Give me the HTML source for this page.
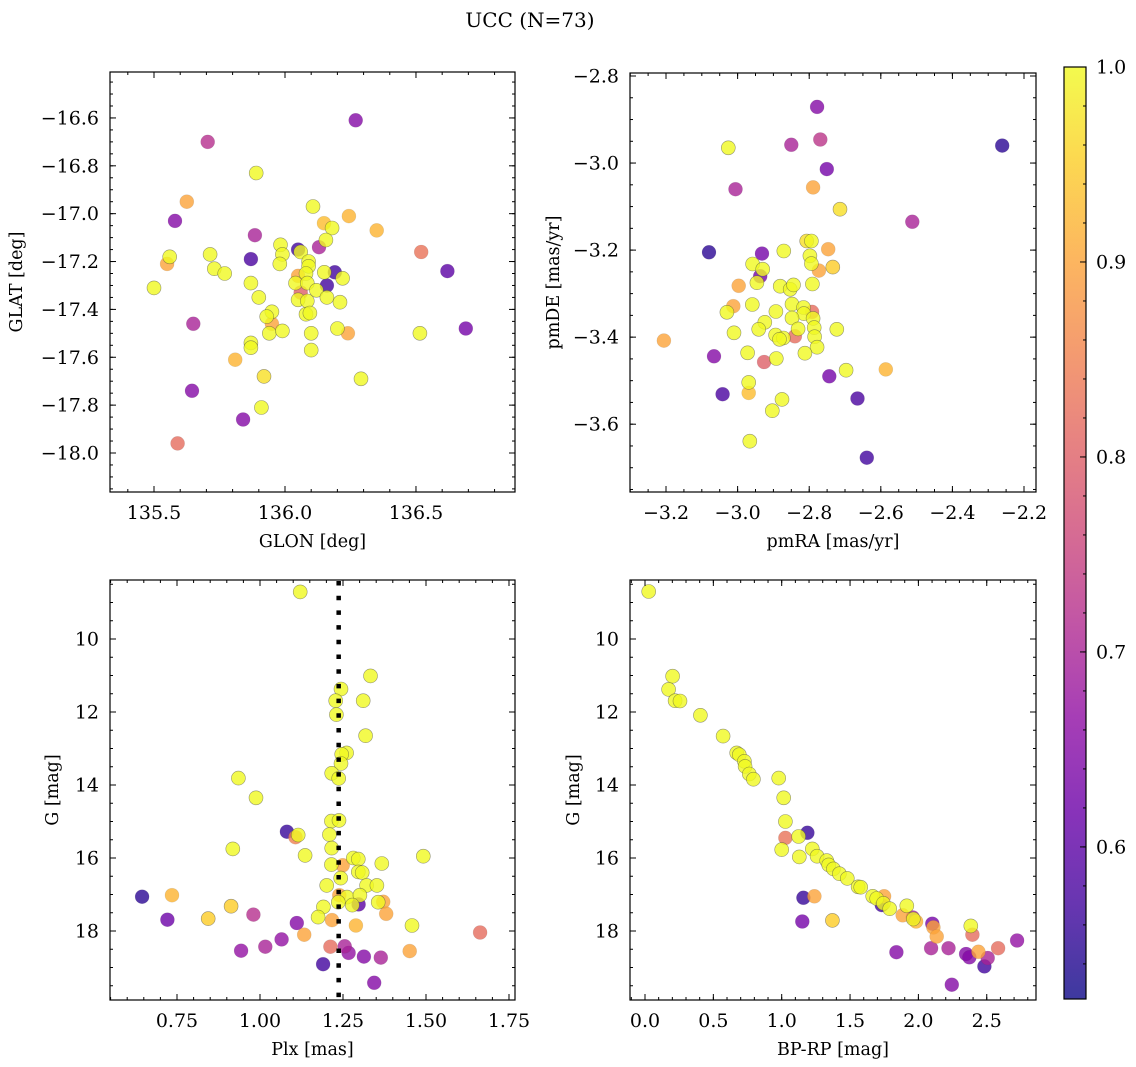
<!DOCTYPE html>
<html><head><meta charset="utf-8"><title>UCC (N=73)</title>
<style>
html,body{margin:0;padding:0;background:#fff;}
svg{display:block;font-family:"DejaVu Serif","Liberation Serif",serif;}
</style></head>
<body>
<svg id="fig" width="1136" height="1067" viewBox="0 0 1136 1067" xmlns="http://www.w3.org/2000/svg">
<text x="530" y="27" font-size="20" text-anchor="middle">UCC (N=73)</text>
</svg>
<script>
// ---------- Panel 1: GLON vs GLAT ----------
const p1X=[136.27,135.705,135.89,135.625,135.58,136.107,136.244,136.149,136.18,136.35,135.885,136.156,136.13,135.983,136.05,136.06,136.52,135.56,135.55,135.714,135.87,135.99,135.98,136.09,136.62,135.73,135.77,136.09,136.08,136.19,136.15,136.22,136.05,135.50,135.87,136.04,136.085,136.16,136.06,135.90,136.12,136.16,136.05,136.085,136.21,135.95,136.08,136.095,135.93,135.95,135.65,135.94,135.99,136.20,136.24,136.10,136.515,136.69,135.87,135.87,136.10,135.81,135.92,136.29,135.645,135.91,135.84,135.59];
const p1Y=[-16.61,-16.70,-16.83,-16.95,-17.03,-16.97,-17.01,-17.04,-17.06,-17.07,-17.09,-17.11,-17.14,-17.13,-17.15,-17.16,-17.16,-17.18,-17.21,-17.17,-17.19,-17.17,-17.21,-17.20,-17.24,-17.23,-17.25,-17.22,-17.25,-17.245,-17.245,-17.27,-17.26,-17.31,-17.29,-17.29,-17.29,-17.30,-17.33,-17.35,-17.32,-17.35,-17.36,-17.365,-17.37,-17.41,-17.42,-17.415,-17.43,-17.46,-17.46,-17.50,-17.49,-17.48,-17.50,-17.50,-17.50,-17.48,-17.54,-17.56,-17.57,-17.61,-17.68,-17.69,-17.74,-17.81,-17.86,-17.96];
const p1P=[0.65,0.72,1,0.9,0.65,1,0.92,0.93,1,0.92,0.7,1,0.7,1,0.57,1,0.83,1,0.9,1,0.58,1,1,1,0.6,1,1,1,1,0.57,1,1,0.9,1,1,1,1,0.57,0.8,1,1,1,1,1,1,1,1,1,1,0.9,0.7,1,1,1,0.9,1,1,0.63,1,1,1,0.92,0.97,1,0.65,1,0.65,0.82];
// ---------- Panel 2: pmRA vs pmDE ----------
const p2X=[-2.778,-3.026,-2.85,-2.769,-2.261,-2.751,-3.006,-2.789,-2.714,-2.512,-3.08,-2.932,-2.871,-2.807,-2.794,-2.747,-2.798,-2.794,-2.734,-2.773,-2.958,-2.93,-2.937,-2.946,-2.997,-2.881,-2.853,-2.844,-2.791,-3.012,-3.03,-2.959,-2.893,-2.848,-2.816,-2.792,-2.815,-2.848,-2.789,-2.924,-2.941,-3.01,-2.831,-2.786,-2.723,-2.84,-2.894,-2.872,-2.883,-2.785,-3.206,-2.778,-2.812,-3.066,-2.972,-2.926,-2.892,-2.697,-2.586,-2.744,-2.969,-2.969,-3.042,-2.876,-2.665,-2.903,-2.966,-2.639];
const p2Y=[-2.871,-2.965,-2.958,-2.946,-2.96,-3.014,-3.06,-3.056,-3.106,-3.135,-3.205,-3.208,-3.202,-3.179,-3.179,-3.198,-3.213,-3.231,-3.239,-3.247,-3.232,-3.244,-3.26,-3.275,-3.282,-3.283,-3.29,-3.28,-3.278,-3.329,-3.343,-3.325,-3.341,-3.324,-3.332,-3.342,-3.346,-3.356,-3.357,-3.366,-3.382,-3.39,-3.381,-3.378,-3.382,-3.398,-3.395,-3.402,-3.405,-3.399,-3.408,-3.423,-3.437,-3.444,-3.436,-3.457,-3.449,-3.476,-3.474,-3.49,-3.504,-3.528,-3.531,-3.543,-3.541,-3.569,-3.639,-3.677];
const p2P=[0.65,1,0.7,0.73,0.55,0.63,0.7,0.9,0.97,0.7,0.55,0.63,1,0.97,1,0.9,1,1,0.95,0.9,1,1,0.63,1,0.9,1,1,1,1,0.9,1,1,1,1,1,0.82,1,1,1,1,1,1,1,1,1,0.82,1,1,1,1,0.9,1,1,0.65,1,0.8,1,1,0.92,0.63,1,0.93,0.58,1,0.58,1,1,0.57];
// ---------- Panel 3: Plx vs G ----------
const p3X=[1.121,1.333,1.244,1.228,1.311,1.23,1.318,1.261,1.246,1.244,1.216,1.237,0.935,0.988,1.215,1.238,1.081,1.107,1.115,1.209,1.216,0.918,1.136,1.281,1.296,1.215,1.249,1.367,1.492,1.296,1.308,1.243,1.201,1.321,1.352,0.645,0.735,1.239,1.262,1.301,1.236,1.297,1.278,1.356,1.371,1.191,0.913,0.721,0.844,0.98,1.175,1.217,1.38,1.111,1.289,1.458,1.133,1.663,1.065,0.943,1.016,1.212,1.255,1.267,1.313,1.364,1.451,1.19,1.344];
const p3Y=[8.71,11.01,11.37,11.69,11.69,12.07,12.65,13.12,13.16,13.41,13.68,13.82,13.81,14.35,14.99,14.97,15.28,15.43,15.37,15.36,15.73,15.75,15.93,16.0,16.03,16.18,16.2,16.15,15.95,16.38,16.4,16.55,16.75,16.75,16.75,17.06,17.02,17.02,17.07,17.02,17.21,17.27,17.29,17.21,17.2,17.34,17.32,17.69,17.66,17.55,17.62,17.7,17.53,17.78,17.85,17.85,18.1,18.04,18.23,18.54,18.43,18.43,18.42,18.6,18.7,18.73,18.55,18.91,19.42];
const p3P=[1,1,1,1,1,1,1,1,1,1,1,1,1,1,1,1,0.56,0.85,1,1,1,1,1,1,1,1,0.9,1,1,1,1,1,1,1,1,0.55,0.92,0.9,1,1,1,0.6,1,1,0.9,1,0.95,0.62,0.95,0.72,1,0.9,0.9,0.65,0.92,1,0.9,0.82,0.67,0.67,0.7,0.82,0.7,0.67,0.65,0.7,0.9,0.57,0.65];
const plxCluster=1.237;
// ---------- Panel 4: BP-RP vs G ----------
const p4X=[0.027,0.202,0.173,0.22,0.256,0.405,0.571,0.671,0.69,0.727,0.732,0.763,0.793,0.978,1.015,1.027,1.188,1.027,1.124,1.0,1.129,1.224,1.259,1.329,1.344,1.378,1.422,1.48,1.559,1.578,1.666,1.749,1.695,1.744,1.732,1.79,1.159,1.239,1.151,1.371,1.915,1.885,1.959,1.963,1.983,2.102,2.11,2.134,2.383,2.395,1.839,2.093,2.22,2.349,2.373,2.439,2.507,2.483,2.583,2.722,2.244];
const p4Y=[8.70,11.02,11.38,11.69,11.70,12.09,12.66,13.12,13.17,13.35,13.49,13.70,13.84,13.81,14.35,15.0,15.31,15.45,15.41,15.77,15.97,15.75,15.95,16.07,16.19,16.30,16.43,16.56,16.79,16.80,17.05,17.05,17.11,17.24,17.29,17.39,17.09,17.05,17.74,17.71,17.31,17.57,17.63,17.67,17.74,17.80,17.90,18.15,17.86,18.10,18.58,18.47,18.47,18.63,18.72,18.57,18.74,18.97,18.47,18.26,19.47];
const p4P=[1,1,1,1,1,1,1,1,1,1,1,1,1,1,1,1,0.56,0.83,1,1,1,1,1,1,1,1,1,1,1,1,1,0.9,1,1,0.57,1,0.56,0.9,0.63,0.95,1,0.9,0.7,1,0.92,0.63,0.9,0.9,1,0.82,0.65,0.7,0.7,0.65,0.65,0.9,0.7,0.57,0.82,0.67,0.65];
// ---------- Colorbar ----------
const cbTicks=[0.6,0.7,0.8,0.9,1.0];
const vmin=0.522, vmax=1.0;

const NS="http://www.w3.org/2000/svg";
const svg=document.getElementById('fig');
function mk(tag,attrs,parent){const e=document.createElementNS(NS,tag);for(const k in attrs)e.setAttribute(k,attrs[k]);(parent||svg).appendChild(e);return e;}
const plasma=[[13,8,135],[65,4,157],[106,0,168],[143,13,164],[177,42,144],[204,71,120],[225,100,98],[242,132,75],[252,166,54],[252,206,37],[240,249,33]];
function cmap(t){t=Math.max(0,Math.min(1,t));const f=t*10;const i=Math.min(9,Math.floor(f));const r=f-i;const a=plasma[i],b=plasma[i+1];
 return 'rgb('+a.map((v,k)=>Math.round(v+(b[k]-v)*r)).join(',')+')';}
function fmt(v,d){const s=Math.abs(v).toFixed(d);return (v<-1e-9?'\u2212':'')+s;}

function panel(o){
 const g=mk('g',{});
 
 
 const sx=v=>o.L+(v-o.x0)/(o.x1-o.x0)*(o.R-o.L);
 const sy=o.yInv? (v=>o.T+(v-o.y0)/(o.y1-o.y0)*(o.B-o.T)) : (v=>o.B-(v-o.y0)/(o.y1-o.y0)*(o.B-o.T));
 const idx=o.xs.map((_,i)=>i).sort((a,b)=>o.ps[a]-o.ps[b]);
 const pg=mk('g',{},g);
 
 
 for(const i of idx){
  const c=mk('circle',{cx:sx(o.xs[i]).toFixed(1),cy:sy(o.ys[i]).toFixed(1),r:7,fill:cmap((o.ps[i]-vmin)/(vmax-vmin)),'fill-opacity':0.8,stroke:'#444','stroke-opacity':o.ps[i]>0.94?0.55:0.15,'stroke-width':0.6},pg);
  
  
 }
 if(o.vline!==undefined){
  const l=mk('line',{x1:sx(o.vline),x2:sx(o.vline),y1:o.T+1,y2:o.B,stroke:'#000','stroke-width':4.5,'stroke-dasharray':'4.5 10.2'},g);
  
  
 }
 const fr=mk('rect',{x:o.L,y:o.T,width:o.R-o.L,height:o.B-o.T,fill:'none',stroke:'#000','stroke-width':1.2},g);
 
 
 const tg=mk('g',{stroke:'#000','stroke-width':1},g);
 const eps=1e-7;
 function rng(a,b,s){const lo=Math.min(a,b),hi=Math.max(a,b);const out=[];for(let v=Math.ceil(lo/s-eps)*s;v<=hi+eps;v+=s)out.push(Math.round(v/s)*s);return out;}
 for(const v of rng(o.x0,o.x1,o.xmin)){const x=sx(v);mk('line',{x1:x,x2:x,y1:o.B,y2:o.B-3},tg);mk('line',{x1:x,x2:x,y1:o.T,y2:o.T+3},tg);}
 for(const v of rng(o.y0,o.y1,o.ymin)){const y=sy(v);mk('line',{x1:o.L,x2:o.L+3,y1:y,y2:y},tg);mk('line',{x1:o.R,x2:o.R-3,y1:y,y2:y},tg);}
 for(const v of rng(o.x0,o.x1,o.xmaj)){const x=sx(v);mk('line',{x1:x,x2:x,y1:o.B,y2:o.B-6},tg);mk('line',{x1:x,x2:x,y1:o.T,y2:o.T+6},tg);
  const t=mk('text',{x:x,y:o.B+27,'font-size':19,'text-anchor':'middle'},g);t.textContent=fmt(v,o.xd);
  
  }
 for(const v of rng(o.y0,o.y1,o.ymaj)){const y=sy(v);mk('line',{x1:o.L,x2:o.L+6,y1:y,y2:y},tg);mk('line',{x1:o.R,x2:o.R-6,y1:y,y2:y},tg);
  const t=mk('text',{x:o.L-11,y:y+6.5,'font-size':19,'text-anchor':'end'},g);t.textContent=fmt(v,o.yd);
  
  }
 const xl=mk('text',{x:(o.L+o.R)/2,y:o.B+55,'font-size':17.5,'text-anchor':'middle'},g);xl.textContent=o.xlab;
 
 
 const yl=mk('text',{x:o.ylx,y:(o.T+o.B)/2,'font-size':17.5,'text-anchor':'middle',transform:'rotate(-90 '+o.ylx+' '+(o.T+o.B)/2+')'},g);yl.textContent=o.ylab;
 
 
}

panel({name:'glon-glat-panel',L:110,R:515,T:72,B:492,x0:135.332,x1:136.878,y0:-18.163,y1:-16.408,xs:p1X,ys:p1Y,ps:p1P,xmaj:0.5,xmin:0.1,ymaj:0.2,ymin:0.05,xd:1,yd:1,xlab:'GLON [deg]',ylab:'GLAT [deg]',ylx:22});
panel({name:'pm-panel',L:630,R:1036,T:73,B:492,x0:-3.3006,x1:-2.1665,y0:-3.7558,y1:-2.7931,xs:p2X,ys:p2Y,ps:p2P,xmaj:0.2,xmin:0.05,ymaj:0.2,ymin:0.05,xd:1,yd:1,xlab:'pmRA [mas/yr]',ylab:'pmDE [mas/yr]',ylx:559});
panel({name:'plx-g-panel',L:110,R:515,T:580,B:1000,x0:0.5482,x1:1.7681,y0:8.3836,y1:19.8904,yInv:true,xs:p3X,ys:p3Y,ps:p3P,xmaj:0.25,xmin:0.05,ymaj:2,ymin:0.5,xd:2,yd:0,xlab:'Plx [mas]',ylab:'G [mag]',ylx:58,vline:plxCluster});
panel({name:'cmd-panel',L:630,R:1036,T:580,B:1000,x0:-0.1097,x1:2.8603,y0:8.3836,y1:19.8904,yInv:true,xs:p4X,ys:p4Y,ps:p4P,xmaj:0.5,xmin:0.1,ymaj:2,ymin:0.5,xd:1,yd:0,xlab:'BP-RP [mag]',ylab:'G [mag]',ylx:579});

const cb=mk('g',{});


const defs=mk('defs',{},cb);
const lg=mk('linearGradient',{id:'cbg',x1:0,y1:1,x2:0,y2:0},defs);
for(let k=0;k<=20;k++){mk('stop',{offset:(k/20),'stop-color':cmap(k/20),'stop-opacity':0.8},lg);}
const CT=67,CB=999,CL=1064,CR=1086;
const cy=v=>CB-(v-vmin)/(vmax-vmin)*(CB-CT);
mk('rect',{x:CL,y:CT,width:CR-CL,height:CB-CT,fill:'url(#cbg)',stroke:'#000','stroke-width':1.2},cb);
for(let v=0.54;v<=1.0001;v+=0.02){const y=cy(v);mk('line',{x1:CR,x2:CR-3,y1:y,y2:y,stroke:'#000','stroke-width':1},cb);}
for(const v of cbTicks){const y=cy(v);mk('line',{x1:CR,x2:CR-6,y1:y,y2:y,stroke:'#000','stroke-width':1},cb);
 const t=mk('text',{x:CR+10,y:y+6.5,'font-size':19},cb);t.textContent=v.toFixed(1);
 
 }
</script>
</body></html>
